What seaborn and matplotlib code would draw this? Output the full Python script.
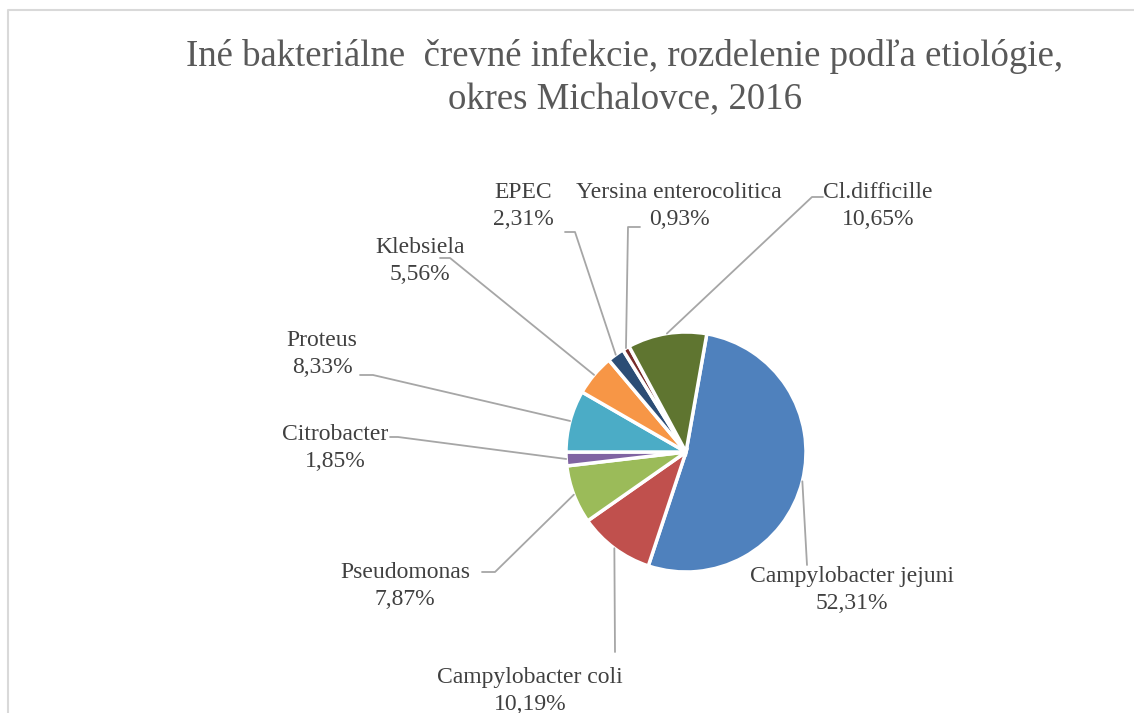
import numpy as np
import matplotlib
matplotlib.use("Agg")
import matplotlib.pyplot as plt
import seaborn as sns

# data
names = ["Campylobacter jejuni", "Campylobacter coli", "Pseudomonas", "Citrobacter",
         "Proteus", "Klebsiela", "EPEC", "Yersina enterocolitica", "Cl.difficille"]
shares = [52.31, 10.19, 7.87, 1.85, 8.33, 5.56, 2.31, 0.93, 10.65]
colors = ["#4F81BD", "#C0504D", "#9BBB59", "#8064A2", "#4BACC6",
          "#F79646", "#2C4D75", "#772C2A", "#5F7530"]
title = "Iné bakteriálne  črevné infekcie, rozdelenie podľa etiológie,\nokres Michalovce, 2016"

sns.set_style("white")
plt.rcParams['font.family'] = ['Liberation Serif', 'DejaVu Serif']

W, H = 1134, 713
fig = plt.figure(figsize=(W / 100, H / 100), dpi=100)
ax = fig.add_axes([0, 0, 1, 1])

# layout (pixel coords, origin top-left)
cx, cy, r = 686, 452, 120
label_pos = [(852, 590), (530, 691), (405, 586), (335, 448), (322, 354),
             (420, 261), (523, 206), (679, 206), (878, 206)]
leader_pts = [
    [(807, 565)],
    [(615, 652)],
    [(482, 572), (495, 572)],
    [(390, 437), (398, 437)],
    [(360, 375), (373, 375)],
    [(440, 258), (450, 258)],
    [(565, 232), (575, 232)],
    [(640, 227), (628, 227)],
    [(823, 197), (812, 197)],
]

wedges, _ = ax.pie(shares, colors=colors, startangle=80, counterclock=False,
                   center=(cx, H - cy), radius=r,
                   wedgeprops=dict(edgecolor='white', linewidth=2.5))
ax.set_xlim(0, W)
ax.set_ylim(0, H)
ax.set_aspect('equal')
ax.axis('off')

for w, name, val, (tx, ty), pts in zip(wedges, names, shares, label_pos, leader_pts):
    mid = np.deg2rad((w.theta1 + w.theta2) / 2)
    ax_x = cx + r * np.cos(mid)
    ax_y = (H - cy) + r * np.sin(mid)
    xs = [p[0] for p in pts] + [ax_x]
    ys = [H - p[1] for p in pts] + [ax_y]
    ax.plot(xs, ys, color='#A6A6A6', lw=1.3, zorder=1)
    lab = name + "\n" + f"{val:.2f}".replace('.', ',') + "%"
    ax.text(tx, H - ty, lab, ha='center', va='center', fontsize=17,
            color='#404040', linespacing=1.4)

ax.text(625, H - 78, title, ha='center', va='center', fontsize=26.5,
        color='#595959', linespacing=1.35)

# chart border
ax.plot([8, 8, W], [0, H - 10, H - 10], color='#D9D9D9', lw=1.5)

fig.savefig("out.png", dpi=100)
